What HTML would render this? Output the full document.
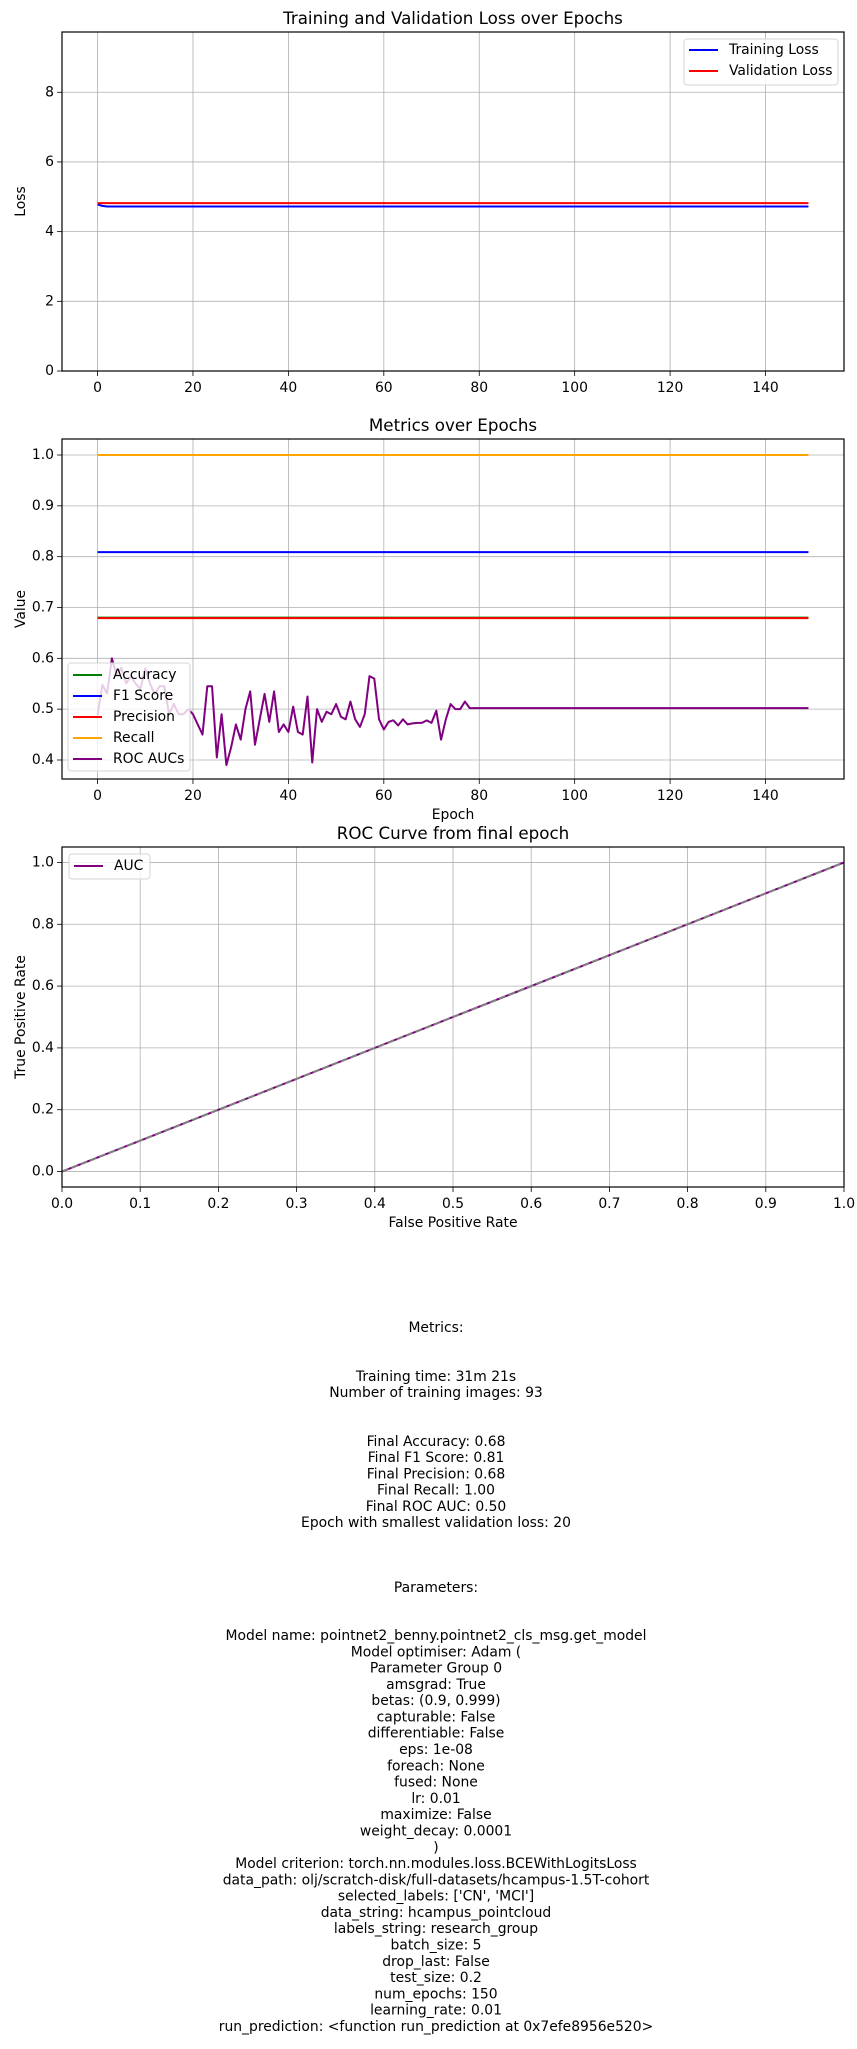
<!DOCTYPE html>
<html><head><meta charset="utf-8"><style>
html,body{margin:0;padding:0;background:#fff;}
svg text{font-family:"DejaVu Sans","Liberation Sans",sans-serif;fill:#000;}
</style></head><body>
<svg id="fig" xmlns="http://www.w3.org/2000/svg" width="857" height="2044" viewBox="0 0 857 2044">
<rect width="857" height="2044" fill="#fff"/>
<g id="p1"></g>
<g id="p2"></g>
<g id="p3"></g>
<g id="txt" font-size="13.9" text-anchor="middle"></g>
</svg>
<script>
// ---- data ----
const epochs = Array.from({length:150},(_,i)=>i);
const trainLossHead = [4.78, 4.74, 4.72];
const trainLossTail = 4.72;
const valLoss = 4.82;
const accuracyVal = 0.68;
const f1Val = 0.809;
const precisionVal = 0.679;
const recallVal = 1.0;
const rocHead = [0.488,0.548,0.531,0.600,0.567,0.581,0.551,0.564,0.550,0.540,0.580,0.550,0.530,0.545,0.545,0.490,0.510,0.490,0.490,0.500,0.490,0.470,0.450,0.545,0.545,0.405,0.490,0.390,0.425,0.470,0.440,0.500,0.535,0.430,0.480,0.530,0.475,0.535,0.455,0.470,0.455,0.505,0.455,0.450,0.525,0.395,0.500,0.475,0.495,0.490,0.510,0.485,0.480,0.515,0.480,0.465,0.490,0.565,0.560,0.480,0.460,0.475,0.478,0.468,0.480,0.470,0.472,0.473,0.473,0.478,0.473,0.497,0.440,0.480,0.510,0.500,0.500,0.515];
const rocTail = 0.502;
const fpr = [0, 1];
const tpr = [0, 1];
const lossTicks = [0,2,4,6,8];
const epochTicks = [0,20,40,60,80,100,120,140];
const metricTicks = [0.4,0.5,0.6,0.7,0.8,0.9,1.0];
const rocTicks = [0,0.1,0.2,0.3,0.4,0.5,0.6,0.7,0.8,0.9,1.0];
const rocYTicks = [0,0.2,0.4,0.6,0.8,1.0];

const NS='http://www.w3.org/2000/svg';
function mk(parent,tag,attrs,text){const e=document.createElementNS(NS,tag);for(const k in attrs)e.setAttribute(k,attrs[k]);if(text!==undefined)e.textContent=text;parent.appendChild(e);return e;}
function lin(d0,d1,r0,r1){return v=>r0+(v-d0)*(r1-r0)/(d1-d0);}
const L=62,R=844;

function axes(g,top,bot,xs,ys,xt,yt,xfmt,yfmt,title,xlab,ylab){
  for(const t of xt){const l=mk(g,'line',{x1:xs(t),x2:xs(t),y1:top,y2:bot,stroke:'#b0b0b0','stroke-width':0.8});
    
    }
  for(const t of yt){const l=mk(g,'line',{x1:L,x2:R,y1:ys(t),y2:ys(t),stroke:'#b0b0b0','stroke-width':0.8});
    
    }
  for(const t of xt){mk(g,'line',{x1:xs(t),x2:xs(t),y1:bot,y2:bot+5,stroke:'#000','stroke-width':0.8});
    const tx=mk(g,'text',{x:xs(t),y:bot+17,'text-anchor':'middle','dominant-baseline':'central','font-size':13.9},xfmt(t));
    
    }
  for(const t of yt){mk(g,'line',{x1:L-5,x2:L,y1:ys(t),y2:ys(t),stroke:'#000','stroke-width':0.8});
    const tx=mk(g,'text',{x:L-8,y:ys(t),'text-anchor':'end','dominant-baseline':'central','font-size':13.9},yfmt(t));
    
    }
  const tt=mk(g,'text',{x:(L+R)/2,y:top-14,'text-anchor':'middle','dominant-baseline':'central','font-size':16.7},title);
  
  
  if(xlab){const xl=mk(g,'text',{x:(L+R)/2,y:bot+36,'text-anchor':'middle','dominant-baseline':'central','font-size':13.9},xlab);
    
    }
  const cy=(top+bot)/2;
  const yl=mk(g,'text',{x:0,y:0,transform:`translate(21,${cy}) rotate(-90)`,'text-anchor':'middle','dominant-baseline':'central','font-size':13.9},ylab);
  
  
}
function frame(g,top,bot){const f=mk(g,'rect',{x:L,y:top,width:R-L,height:bot-top,fill:'none',stroke:'#000','stroke-width':1.2});
  
  }
function line(g,xs,ys,xv,yv,color,name,extra){
  const d=xv.map((x,i)=>(i?'L':'M')+xs(x).toFixed(2)+' '+ys(yv[i]).toFixed(2)).join(' ');
  const p=mk(g,'path',Object.assign({d,fill:'none',stroke:color,'stroke-width':2,'stroke-linejoin':'round'},extra||{}));
  
  
  return p;
}
function legend(g,x,y,w,h,items,startY,step){
  const box=mk(g,'rect',{x,y,width:w,height:h,rx:3,fill:'#fff','fill-opacity':0.8,stroke:'#d6d6d6','stroke-width':1});
  
  
  items.forEach((it,i)=>{const yy=startY+i*step;
    const h1=mk(g,'line',{x1:x+5,x2:x+34,y1:yy,y2:yy,stroke:it[1],'stroke-width':2});
    
    
    const t=mk(g,'text',{x:x+45,y:yy,'dominant-baseline':'central','font-size':13.9},it[0]);
    
    });
}
const fmt0=t=>String(t), fmt1=t=>t.toFixed(1);

// ---- plot 1 ----
(function(){
  const g=document.getElementById('p1');const top=32,bot=371;
  const xs=lin(-7.45,156.45,L,R), ys=lin(0,9.73,bot,top);
  axes(g,top,bot,xs,ys,epochTicks,lossTicks,fmt0,fmt0,'Training and Validation Loss over Epochs',null,'Loss');
  const tr=epochs.map(e=>e<trainLossHead.length?trainLossHead[e]:trainLossTail);
  const va=epochs.map(()=>valLoss);
  line(g,xs,ys,epochs,tr,'#0000ff','training-loss-line');
  line(g,xs,ys,epochs,va,'#ff0000','validation-loss-line');
  frame(g,top,bot);
  legend(g,684,39,154,46,[['Training Loss','#0000ff'],['Validation Loss','#ff0000']],50,21);
})();
// ---- plot 2 ----
(function(){
  const g=document.getElementById('p2');const top=439,bot=779;
  const xs=lin(-7.45,156.45,L,R), ys=lin(0.3626,1.0315,bot,top);
  axes(g,top,bot,xs,ys,epochTicks,metricTicks,fmt0,fmt1,'Metrics over Epochs','Epoch','Value');
  line(g,xs,ys,epochs,epochs.map(()=>accuracyVal),'#008000','accuracy-line');
  line(g,xs,ys,epochs,epochs.map(()=>f1Val),'#0000ff','f1-score-line');
  line(g,xs,ys,epochs,epochs.map(()=>precisionVal),'#ff0000','precision-line');
  line(g,xs,ys,epochs,epochs.map(()=>recallVal),'#ffa500','recall-line');
  line(g,xs,ys,epochs,epochs.map(e=>e<rocHead.length?rocHead[e]:rocTail),'#800080','roc-auc-line');
  frame(g,top,bot);
  legend(g,68,663,122,108,[['Accuracy','#008000'],['F1 Score','#0000ff'],['Precision','#ff0000'],['Recall','#ffa500'],['ROC AUCs','#800080']],675,21);
})();
// ---- plot 3 ----
(function(){
  const g=document.getElementById('p3');const top=847,bot=1187;
  const xs=lin(0,1,L,R), ys=lin(-0.05,1.05,bot,top);
  axes(g,top,bot,xs,ys,rocTicks,rocYTicks,fmt1,fmt1,'ROC Curve from final epoch','False Positive Rate','True Positive Rate');
  line(g,xs,ys,fpr,tpr,'#800080','roc-curve-line');
  line(g,xs,ys,[0,1],[0,1],'#808080','chance-diagonal',{'stroke-dasharray':'7,3'});
  frame(g,top,bot);
  legend(g,69,854,81,25,[['AUC','#800080']],866,21);
})();
// ---- text ----
(function(){
  const g=document.getElementById('txt');const cx=436;
  const blocks=[
    [1328,['Metrics:']],
    [1377,['Training time: 31m 21s','Number of training images: 93']],
    [1442,['Final Accuracy: 0.68','Final F1 Score: 0.81','Final Precision: 0.68','Final Recall: 1.00','Final ROC AUC: 0.50','Epoch with smallest validation loss: 20']],
    [1588,['Parameters:']],
    [1636,['Model name: pointnet2_benny.pointnet2_cls_msg.get_model','Model optimiser: Adam (','Parameter Group 0','    amsgrad: True','    betas: (0.9, 0.999)','    capturable: False','    differentiable: False','    eps: 1e-08','    foreach: None','    fused: None','    lr: 0.01','    maximize: False','    weight_decay: 0.0001',')','Model criterion: torch.nn.modules.loss.BCEWithLogitsLoss','data_path: olj/scratch-disk/full-datasets/hcampus-1.5T-cohort',"selected_labels: ['CN', 'MCI']",'data_string: hcampus_pointcloud','labels_string: research_group','batch_size: 5','drop_last: False','test_size: 0.2','num_epochs: 150','learning_rate: 0.01','run_prediction: <function run_prediction at 0x7efe8956e520>']]
  ];
  for(const [y0,lines] of blocks){
    const step=lines.length>10?16.29:16.2;
    lines.forEach((s,i)=>{const t=mk(g,'text',{x:cx,y:y0+i*step,'dominant-baseline':'central','xml:space':'preserve'},s);
      
      });
  }
})();
</script>
</body></html>
